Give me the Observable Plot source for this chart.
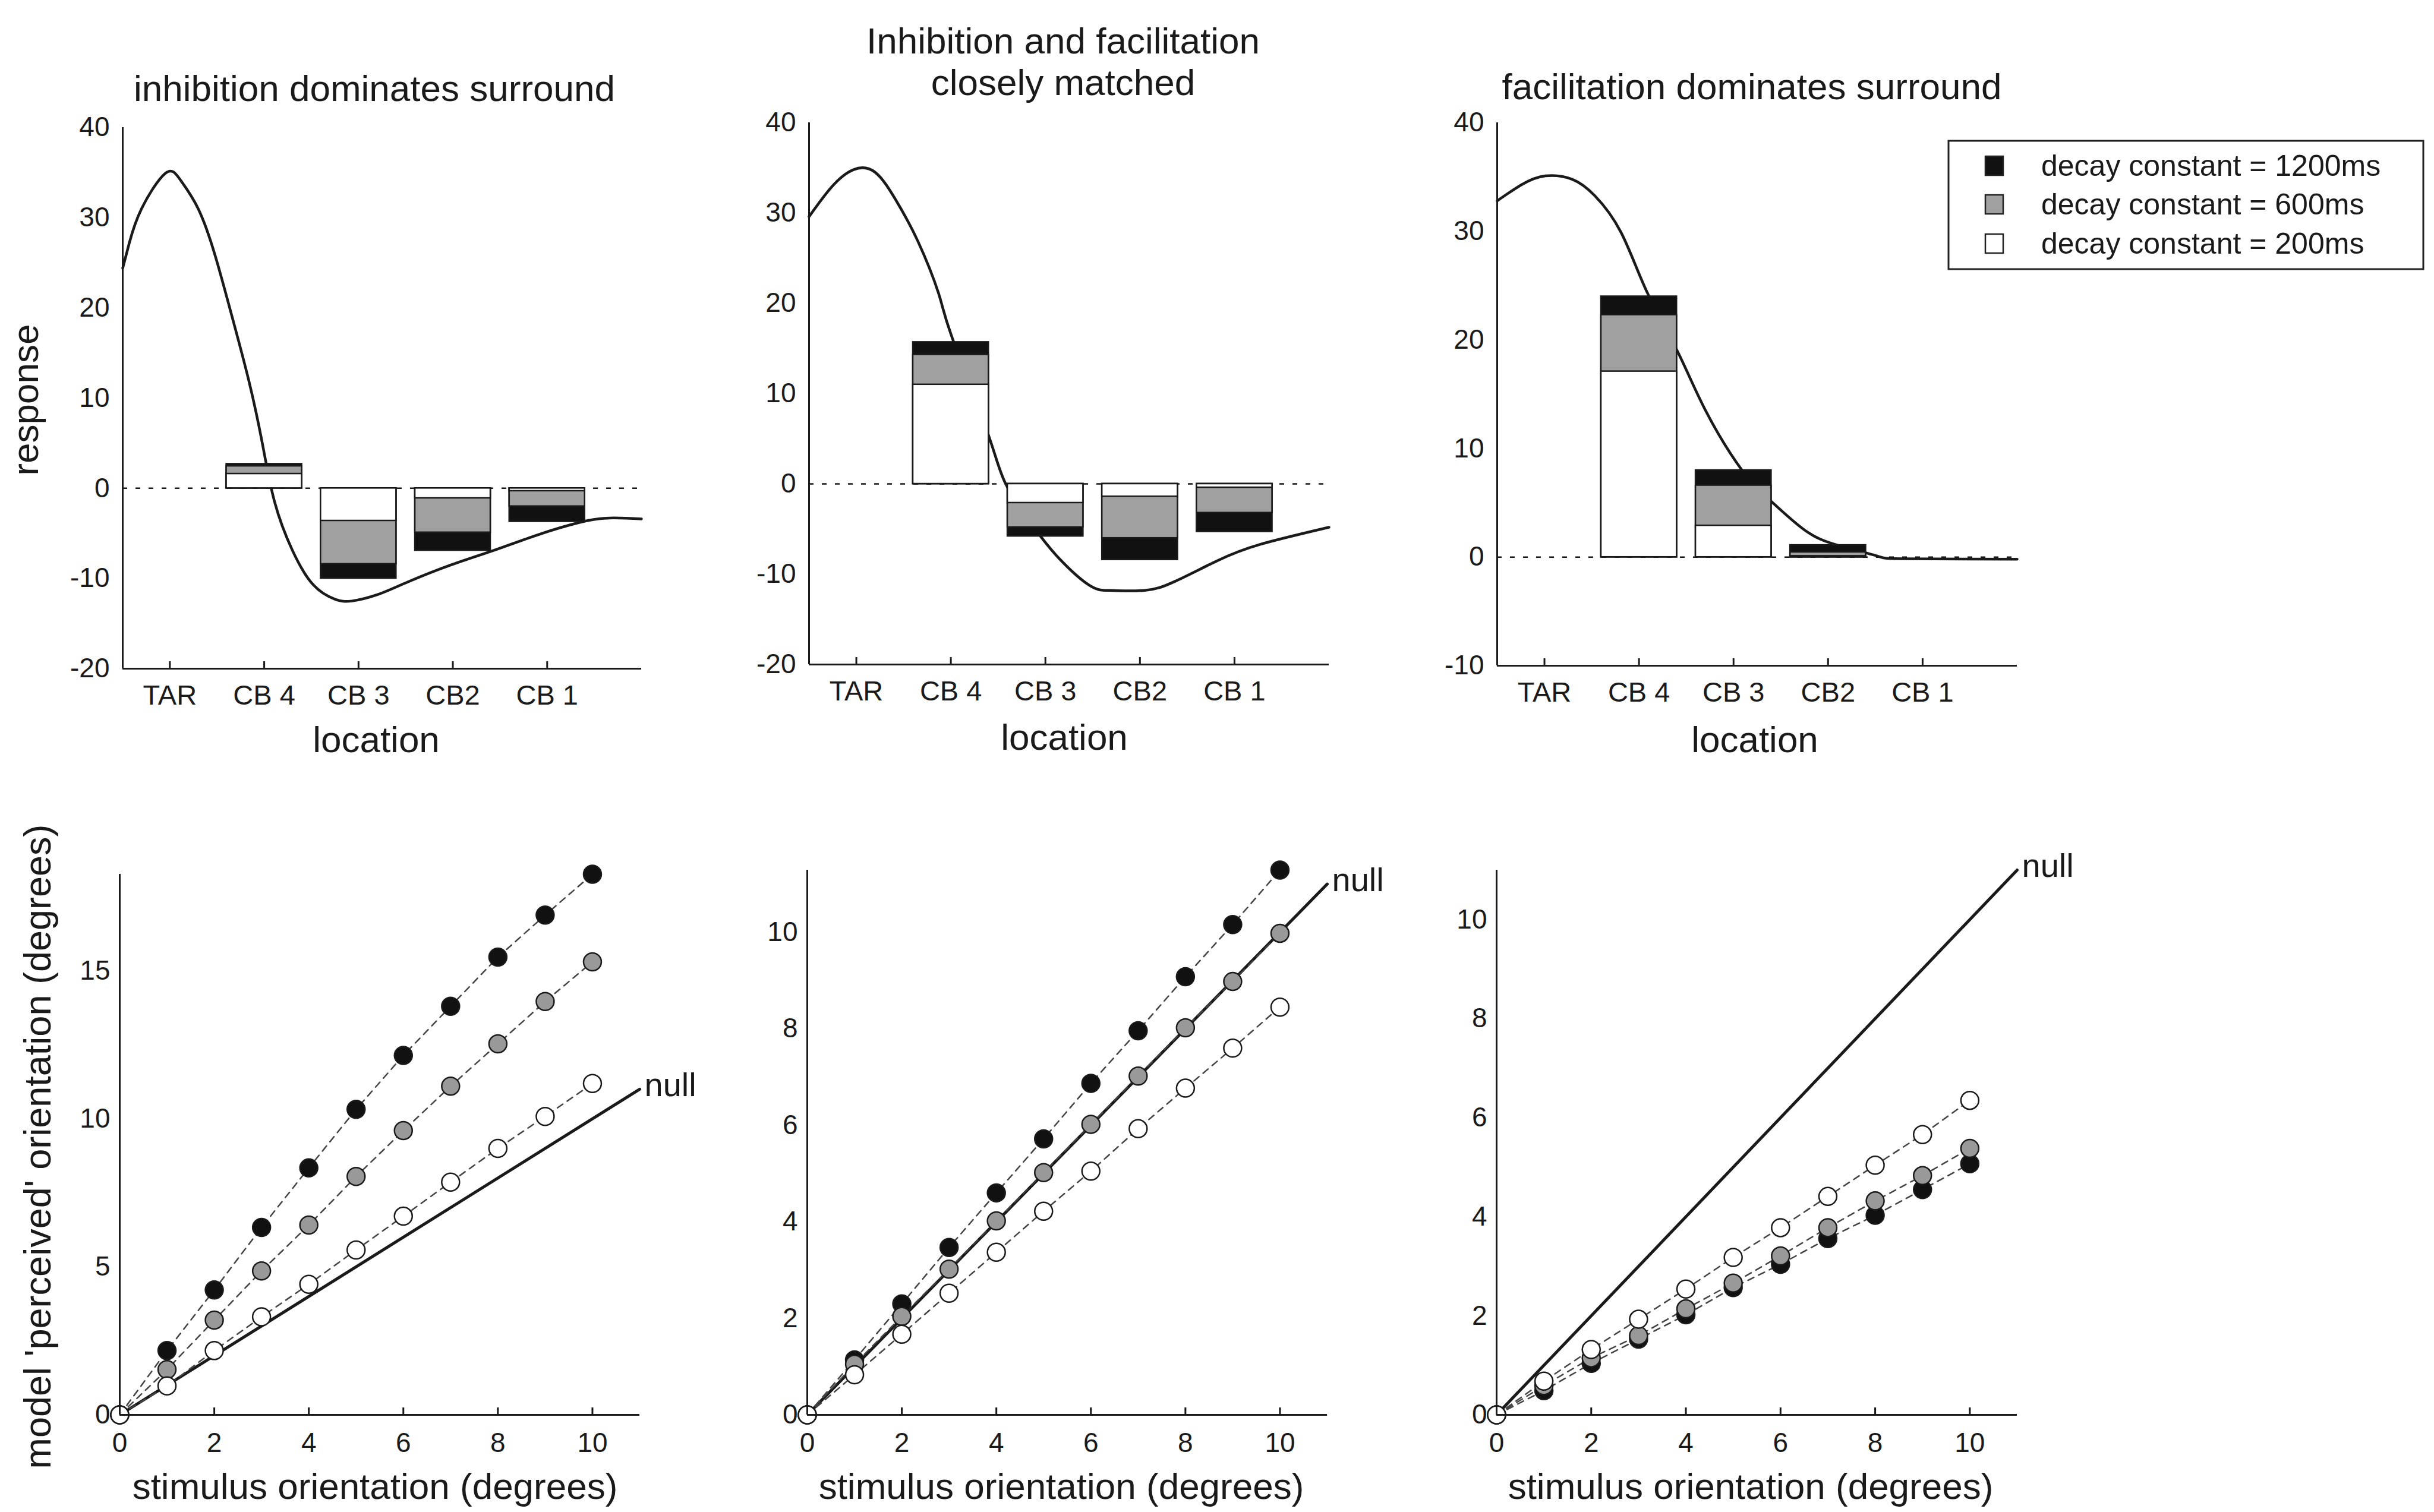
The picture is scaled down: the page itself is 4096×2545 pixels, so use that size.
<!DOCTYPE html>
<html>
<head>
<meta charset="utf-8">
<script src="https://cdn.jsdelivr.net/npm/d3@7"></script>
<script src="https://cdn.jsdelivr.net/npm/@observablehq/plot@0.6"></script>
<style>
html, body { margin: 0; padding: 0; background: #fff; }
#root { position: relative; width: 4096px; height: 2545px; overflow: hidden; background: #fff; }
#root svg { position: absolute; }
</style>
</head>
<body>
<div id="root"></div>
<script>
// ---------------- data ----------------
const locations = ["TAR", "CB 4", "CB 3", "CB2", "CB 1"];
const barLocations = ["CB 4", "CB 3", "CB2", "CB 1"];
const decayLabels = ["decay constant = 1200ms", "decay constant = 600ms", "decay constant = 200ms"];
const panelTitles = [["inhibition dominates surround"], ["Inhibition and facilitation", "closely matched"], ["facilitation dominates surround"]];

// top row: bar heights per decay constant at CB 4, CB 3, CB2, CB 1
const inhibBar1200 = [2.7, -10.0, -6.9, -3.7];
const inhibBar600 = [2.45, -8.4, -4.9, -2.0];
const inhibBar200 = [1.6, -3.6, -1.1, -0.3];
const matchedBar1200 = [15.7, -5.8, -8.4, -5.3];
const matchedBar600 = [14.3, -4.8, -6.0, -3.2];
const matchedBar200 = [11.0, -2.1, -1.4, -0.4];
const facilBar1200 = [24.0, 8.0, 1.1, 0];
const facilBar600 = [22.3, 6.6, 0.45, 0];
const facilBar200 = [17.1, 2.9, 0.1, 0];

// top row: response profile curves (x in location units)
const inhibCurveX = [0, 0.07, 0.2, 0.45, 0.61, 0.8, 0.98, 1.16, 1.34, 1.48, 1.61, 1.8, 2.02, 2.25, 2.43, 2.7, 3.02, 3.48, 3.93, 4.39, 4.84, 5.16, 5.5];
const inhibCurveY = [24.4, 27.2, 31.0, 34.9, 34.2, 31.0, 25.8, 19.0, 11.8, 5.0, -1.5, -6.9, -10.7, -12.3, -12.5, -11.8, -10.4, -8.5, -6.9, -5.2, -3.8, -3.3, -3.4];
const matchedCurveX = [0, 0.24, 0.47, 0.7, 0.92, 1.15, 1.37, 1.51, 1.886, 2.08, 2.37, 2.64, 2.96, 3.19, 3.55, 3.87, 4.32, 4.77, 5.5];
const matchedCurveY = [29.6, 32.9, 34.8, 34.5, 31.4, 26.9, 21.1, 16.3, 5.75, 0, -4.7, -8.2, -11.2, -11.8, -11.8, -10.8, -8.5, -6.7, -4.8];
const facilCurveX = [0, 0.26, 0.51, 0.79, 1.03, 1.31, 1.585, 1.91, 2.21, 2.59, 2.89, 3.25, 3.6, 4.02, 4.3, 5.5];
const facilCurveY = [32.8, 34.3, 35.1, 34.8, 33.3, 29.9, 24.4, 18.9, 13.4, 8.0, 5.2, 2.5, 1.1, 0.1, -0.15, -0.2];

// bottom row: model perceived orientation vs stimulus orientation
const stimX = [0, 1, 2, 3, 4, 5, 6, 7, 8, 9, 10];
const inhibPerc1200 = [0, 2.17, 4.22, 6.33, 8.34, 10.32, 12.14, 13.8, 15.46, 16.88, 18.26];
const inhibPerc600 = [0, 1.53, 3.2, 4.86, 6.41, 8.05, 9.6, 11.1, 12.53, 13.96, 15.3];
const inhibPerc200 = [0, 0.98, 2.17, 3.31, 4.41, 5.57, 6.71, 7.86, 9.0, 10.08, 11.19];
const matchedPerc1200 = [0, 1.14, 2.3, 3.47, 4.6, 5.72, 6.87, 7.96, 9.08, 10.16, 11.29];
const matchedPerc600 = [0, 1.05, 2.04, 3.02, 4.02, 5.02, 6.02, 7.02, 8.02, 8.98, 9.98];
const matchedPerc200 = [0, 0.83, 1.67, 2.52, 3.37, 4.22, 5.05, 5.93, 6.77, 7.6, 8.45];
const facilPerc1200 = [0, 0.49, 1.04, 1.53, 2.02, 2.57, 3.04, 3.56, 4.03, 4.55, 5.07];
const facilPerc600 = [0, 0.59, 1.15, 1.6, 2.14, 2.66, 3.21, 3.78, 4.32, 4.83, 5.38];
const facilPerc200 = [0, 0.68, 1.32, 1.93, 2.54, 3.18, 3.78, 4.41, 5.04, 5.66, 6.35];
const nullX = [0, 11];
const nullY = [0, 11];
const nullLabel = "null";

const topYTicksA = [-20, -10, 0, 10, 20, 30, 40];
const topYTicksC = [-10, 0, 10, 20, 30, 40];
const botXTicks = [0, 2, 4, 6, 8, 10];
const botYTicksA = [0, 5, 10, 15];
const botYTicksB = [0, 2, 4, 6, 8, 10];

// ---------------- rendering ----------------
const FONT = '"Liberation Sans", Arial, Helvetica, sans-serif';
const INK = "#1a1a1a";
const GRAY = "#a0a0a0";
const fmt = d => String(d);
const root = document.getElementById("root");

function place(svg, FL, FT, mL, mT) {
  svg.style.left = (FL - mL) + "px";
  svg.style.top = (FT - mT) + "px";
  root.appendChild(svg);
}

function topPanel({FL, FR, FT, FB, yDomain, yTicks, cx, cy, b1200, b600, b200}) {
  const mL = 120, mR = 20, mT = 20, mB = 90;
  const tickPos = locations.map((_, i) => i + 0.5);
  const pos = name => locations.indexOf(name) + 0.5;
  const mkBars = arr => arr.map((v, i) => ({loc: barLocations[i], v})).filter(d => d.v !== 0);
  const curve = cx.map((x, i) => ({x, y: cy[i]}));
  const tickLen = 12 * (yDomain[1] - yDomain[0]) / (FB - FT);
  const barOpts = (fill) => ({x1: d => pos(d.loc) - 0.4, x2: d => pos(d.loc) + 0.4, y1: 0, y2: "v", fill, stroke: INK, strokeWidth: 2.5});
  const svg = Plot.plot({
    width: FR - FL + mL + mR, height: FB - FT + mT + mB,
    marginLeft: mL, marginRight: mR, marginTop: mT, marginBottom: mB,
    x: {domain: [0, 5.5]},
    y: {domain: yDomain},
    style: {fontFamily: FONT, fontSize: "46px", color: INK, background: "transparent", overflow: "visible"},
    marks: [
      Plot.ruleY([0], {stroke: INK, strokeWidth: 2.5, strokeDasharray: "8,14"}),
      Plot.line(curve, {x: "x", y: "y", curve: "natural", stroke: INK, strokeWidth: 4.5}),
      Plot.rect(mkBars(b1200), barOpts("#111")),
      Plot.rect(mkBars(b600), barOpts(GRAY)),
      Plot.rect(mkBars(b200), barOpts("#fff")),
      Plot.ruleX([0], {y1: yDomain[0], y2: yDomain[1], stroke: INK, strokeWidth: 3}),
      Plot.ruleY([yDomain[0]], {x1: 0, x2: 5.5, stroke: INK, strokeWidth: 3}),
      Plot.ruleX(tickPos, {y1: yDomain[0], y2: yDomain[0] + tickLen, stroke: INK, strokeWidth: 3}),
      Plot.axisX(tickPos, {tickFormat: d => locations[Math.round(d - 0.5)], tickSize: 0, tickPadding: 27, fontSize: 47, label: null}),
      Plot.axisY(yTicks, {tickFormat: fmt, tickSize: 0, tickPadding: 22, fontSize: 46, label: null})
    ]
  });
  place(svg, FL, FT, mL, mT);
}

function bottomPanel({FL, FR, FT, FB, yTicks, s1200, s600, s200}) {
  const mL = 110, mR = 150, mT = 40, mB = 90;
  const ymax = d3.max([...s1200, ...s600, ...s200, ...nullY]);
  const mk = arr => stimX.map((x, i) => ({x, y: arr[i]}));
  const nullData = nullX.map((x, i) => ({x, y: nullY[i]}));
  const tickLen = 12 * ymax / (FB - FT);
  const svg = Plot.plot({
    width: FR - FL + mL + mR, height: FB - FT + mT + mB,
    marginLeft: mL, marginRight: mR, marginTop: mT, marginBottom: mB,
    x: {domain: [0, 11]},
    y: {domain: [0, ymax]},
    style: {fontFamily: FONT, fontSize: "46px", color: INK, background: "transparent", overflow: "visible"},
    marks: [
      Plot.line(nullData, {x: "x", y: "y", stroke: INK, strokeWidth: 5}),
      ...[s1200, s600, s200].map(a => Plot.line(mk(a), {x: "x", y: "y", stroke: "#444", strokeWidth: 2.5, strokeDasharray: "11,9"})),
      ...[[s1200, "#111"], [s600, "#999"], [s200, "#fff"]].map(([a, f]) =>
        Plot.dot(mk(a), {x: "x", y: "y", r: 15, fill: f, stroke: INK, strokeWidth: 2.5})),
      Plot.text(nullData.slice(-1), {x: "x", y: "y", text: () => nullLabel, dx: 8, dy: -6, textAnchor: "start", fontSize: 56, fill: INK}),
      Plot.ruleX([0], {y1: 0, y2: ymax, stroke: INK, strokeWidth: 3}),
      Plot.ruleY([0], {x1: 0, x2: 11, stroke: INK, strokeWidth: 3}),
      Plot.ruleX(botXTicks, {y1: 0, y2: tickLen, stroke: INK, strokeWidth: 3}),
      Plot.axisX(botXTicks, {tickFormat: fmt, tickSize: 0, tickPadding: 30, fontSize: 46, label: null}),
      Plot.axisY(yTicks, {tickFormat: fmt, tickSize: 0, tickPadding: 16, fontSize: 46, label: null})
    ]
  });
  place(svg, FL, FT, mL, mT);
}

topPanel({FL: 206, FR: 1079, FT: 214, FB: 1125, yDomain: [-20, 40], yTicks: topYTicksA, cx: inhibCurveX, cy: inhibCurveY, b1200: inhibBar1200, b600: inhibBar600, b200: inhibBar200});
topPanel({FL: 1361, FR: 2236, FT: 206, FB: 1118, yDomain: [-20, 40], yTicks: topYTicksA, cx: matchedCurveX, cy: matchedCurveY, b1200: matchedBar1200, b600: matchedBar600, b200: matchedBar200});
topPanel({FL: 2519, FR: 3394, FT: 206, FB: 1120, yDomain: [-10, 40], yTicks: topYTicksC, cx: facilCurveX, cy: facilCurveY, b1200: facilBar1200, b600: facilBar600, b200: facilBar200});

bottomPanel({FL: 201, FR: 1076, FT: 1471, FB: 2381, yTicks: botYTicksA, s1200: inhibPerc1200, s600: inhibPerc600, s200: inhibPerc200});
bottomPanel({FL: 1358, FR: 2233, FT: 1464, FB: 2381, yTicks: botYTicksB, s1200: matchedPerc1200, s600: matchedPerc600, s200: matchedPerc200});
bottomPanel({FL: 2518, FR: 3394, FT: 1464, FB: 2381, yTicks: botYTicksB, s1200: facilPerc1200, s600: facilPerc600, s200: facilPerc200});

// ---------------- titles, axis labels, legend ----------------
const ov = d3.select(root).append("svg")
  .attr("width", 4096).attr("height", 2545)
  .style("left", "0px").style("top", "0px")
  .attr("font-family", FONT).attr("fill", INK);

const titlePos = [{x: 630, ys: [170]}, {x: 1789, ys: [90, 160]}, {x: 2948, ys: [167]}];
panelTitles.forEach((lines, p) => lines.forEach((t, j) => {
  ov.append("text").attr("x", titlePos[p].x).attr("y", titlePos[p].ys[j])
    .attr("text-anchor", "middle").attr("font-size", 62).text(t);
}));

[[633, 1266], [1791, 1262], [2953, 1266]].forEach(([x, y]) =>
  ov.append("text").attr("x", x).attr("y", y).attr("text-anchor", "middle").attr("font-size", 62).text("location"));
[[631, 2523], [1786, 2523], [2946, 2523]].forEach(([x, y]) =>
  ov.append("text").attr("x", x).attr("y", y).attr("text-anchor", "middle").attr("font-size", 62).text("stimulus orientation (degrees)"));

ov.append("text").attr("transform", "translate(64,673) rotate(-90)")
  .attr("text-anchor", "middle").attr("font-size", 62).text("response");
ov.append("text").attr("transform", "translate(85,1930) rotate(-90)")
  .attr("text-anchor", "middle").attr("font-size", 63).text("model 'perceived' orientation (degrees)");

// legend
const lg = ov.append("g");
lg.append("rect").attr("x", 3279).attr("y", 237).attr("width", 799).attr("height", 216)
  .attr("fill", "#fff").attr("stroke", "#222").attr("stroke-width", 3);
const swFill = ["#111", GRAY, "#fff"];
const baselines = [296, 361, 427];
decayLabels.forEach((t, i) => {
  lg.append("rect").attr("x", 3341).attr("y", baselines[i] - 33).attr("width", 30).attr("height", 32)
    .attr("fill", swFill[i]).attr("stroke", "#222").attr("stroke-width", 2.5);
  lg.append("text").attr("x", 3435).attr("y", baselines[i]).attr("font-size", 50).text(t);
});
</script>
</body>
</html>
